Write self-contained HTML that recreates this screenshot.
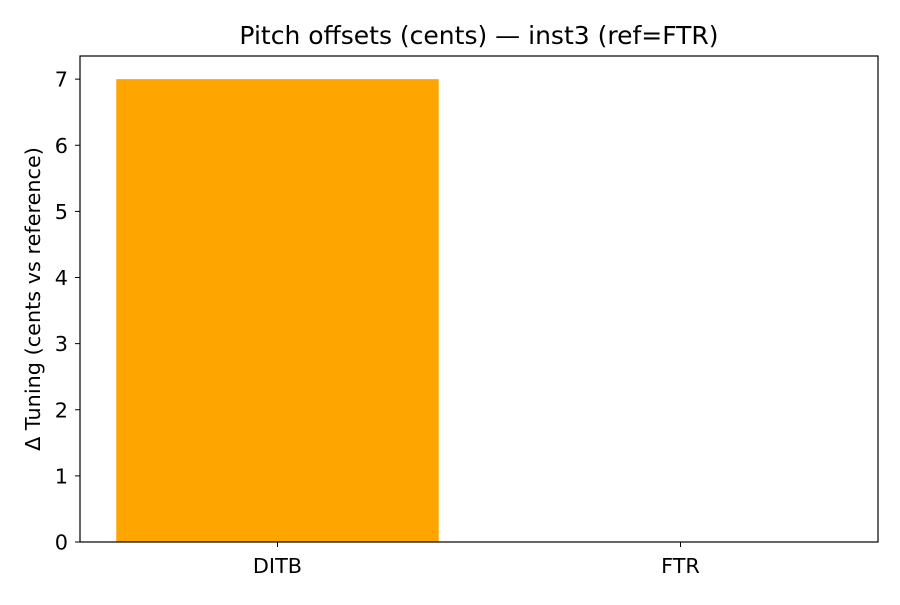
<!DOCTYPE html>
<html><head><meta charset="utf-8"><style>
body{margin:0;background:#fff;}
svg text{font-family:"DejaVu Sans","Liberation Sans",sans-serif;fill:#000;}
</style></head><body>
<svg id="chart" width="900" height="600" xmlns="http://www.w3.org/2000/svg">
<rect width="900" height="600" fill="#fff"/>
<text x="479" y="44" font-size="25" text-anchor="middle">Pitch offsets (cents) — inst3 (ref=FTR)</text>
<text transform="translate(40,299) rotate(-90)" font-size="20.8" text-anchor="middle">Δ Tuning (cents vs reference)</text>
<g id="bars"></g>
<g id="yticks"></g>
<g id="xticks"></g>
<rect x="80" y="56" width="798" height="486" fill="none" stroke="#000" stroke-width="1.2"/>
</svg>
<script>
const categories = ["DITB", "FTR"];
const values = [7, 0];
const yTicks = [0, 1, 2, 3, 4, 5, 6, 7];
const L=80,R=878,T=56,B=542;
const yMax=7.35, xMin=-0.49, xMax=1.49;
const ys=v=>B-(v/yMax)*(B-T);
const xs=v=>L+(v-xMin)/(xMax-xMin)*(R-L);
const NS="http://www.w3.org/2000/svg";
const bars=document.getElementById('bars');
categories.forEach((c,i)=>{
  const r=document.createElementNS(NS,'rect');
  const x0=xs(i-0.4),x1=xs(i+0.4),y=ys(Math.max(values[i],0)),y0=ys(Math.min(values[i],0));
  r.setAttribute('x',x0);r.setAttribute('width',x1-x0);
  r.setAttribute('y',y);r.setAttribute('height',y0-y);
  r.setAttribute('fill','#ffa500');
  
  
  bars.appendChild(r);
});
const yt=document.getElementById('yticks');
yTicks.forEach(t=>{
  const y=ys(t);
  const l=document.createElementNS(NS,'line');
  l.setAttribute('x1',L-5);l.setAttribute('x2',L);l.setAttribute('y1',y);l.setAttribute('y2',y);
  l.setAttribute('stroke','#000');
  
  
  yt.appendChild(l);
  const tx=document.createElementNS(NS,'text');
  tx.setAttribute('x',L-12);tx.setAttribute('y',y+7.5);tx.setAttribute('font-size','20.8');tx.setAttribute('text-anchor','end');
  tx.textContent=t;
  
  
  yt.appendChild(tx);
});
const xt=document.getElementById('xticks');
categories.forEach((c,i)=>{
  const x=xs(i);
  const l=document.createElementNS(NS,'line');
  l.setAttribute('x1',x);l.setAttribute('x2',x);l.setAttribute('y1',B);l.setAttribute('y2',B+5);
  l.setAttribute('stroke','#000');
  
  
  xt.appendChild(l);
  const tx=document.createElementNS(NS,'text');
  tx.setAttribute('x',x);tx.setAttribute('y',B+31);tx.setAttribute('font-size','20.8');tx.setAttribute('text-anchor','middle');
  tx.textContent=c;
  
  
  xt.appendChild(tx);
});
</script>
</body></html>
